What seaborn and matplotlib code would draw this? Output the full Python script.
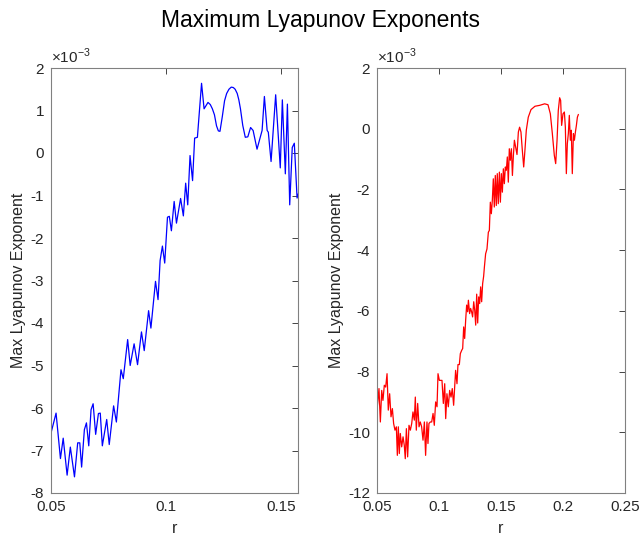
import numpy as np
import pandas as pd
import matplotlib
matplotlib.use("Agg")
import matplotlib.pyplot as plt
import seaborn as sns

# Left panel (values in units of 1e-3)
r_left = [0.0500, 0.0522, 0.0541, 0.0553, 0.0570, 0.0584, 0.0602, 0.0616, 0.0625, 0.0633,
          0.0645, 0.0654, 0.0664, 0.0674, 0.0683, 0.0694, 0.0706, 0.0714, 0.0723, 0.0742,
          0.0753, 0.0772, 0.0784, 0.0804, 0.0814, 0.0833, 0.0844, 0.0861, 0.0876, 0.0893,
          0.0905, 0.0924, 0.0934, 0.0954, 0.0965, 0.0974, 0.0984, 0.0994, 0.1006, 0.1014,
          0.1023, 0.1035, 0.1045, 0.1063, 0.1075, 0.1085, 0.1094, 0.1104, 0.1115, 0.1124,
          0.1136, 0.1154, 0.1165, 0.1182, 0.1192, 0.1201, 0.1210, 0.1219, 0.1227, 0.1234,
          0.1244, 0.1254, 0.1263, 0.1273, 0.1283, 0.1292, 0.1300, 0.1309, 0.1316, 0.1323,
          0.1333, 0.1344, 0.1355, 0.1367, 0.1378, 0.1395, 0.1417, 0.1427, 0.1439,
          0.1444, 0.1456, 0.1476, 0.1485, 0.1496, 0.1505, 0.1518, 0.1527, 0.1537, 0.1548,
          0.1557, 0.1569, 0.1574]
lam_left = [-6.59, -6.12, -7.19, -6.71, -7.58, -6.92, -7.62, -6.82, -6.82, -7.39,
            -6.51, -6.35, -6.89, -6.04, -5.90, -6.62, -6.13, -6.12, -6.89, -6.27,
            -6.86, -5.95, -6.33, -5.10, -5.31, -4.39, -5.00, -4.49, -4.98, -4.21,
            -4.65, -3.71, -4.12, -3.02, -3.45, -2.53, -2.19, -2.59, -1.51, -1.49,
            -1.83, -1.14, -1.65, -1.07, -1.48, -0.71, -1.22, -0.06, -0.65, 0.35,
            0.37, 1.64, 1.04, 1.19, 1.14, 1.04, 0.90, 0.64, 0.52, 0.51,
            0.85, 1.23, 1.40, 1.50, 1.55, 1.54, 1.50, 1.40, 1.25, 1.04,
            0.65, 0.37, 0.38, 0.60, 0.53, 0.09, 0.53, 1.33, 0.53,
            0.49, -0.20, 1.37, 0.60, -0.35, 1.25, -0.49, 1.15, -1.22, 0.13,
            0.23, -1.06, -0.96]

# Right panel (values in units of 1e-3)
r_right = [0.0500, 0.0516, 0.0527, 0.0538, 0.0548, 0.0559, 0.0570, 0.0581, 0.0591, 0.0602,
           0.0613, 0.0624, 0.0634, 0.0645, 0.0656, 0.0664, 0.0672, 0.0680, 0.0688, 0.0699,
           0.0710, 0.0720, 0.0728, 0.0737, 0.0747, 0.0758, 0.0769, 0.0780, 0.0790, 0.0801,
           0.0809, 0.0817, 0.0828, 0.0839, 0.0849, 0.0860, 0.0871, 0.0882, 0.0892, 0.0903,
           0.0911, 0.0919, 0.0930, 0.0941, 0.0952, 0.0962, 0.0973, 0.0984, 0.0992, 0.1003,
           0.1013, 0.1024, 0.1035, 0.1046, 0.1054, 0.1064, 0.1075, 0.1086, 0.1097, 0.1107,
           0.1118, 0.1126, 0.1134, 0.1145, 0.1153, 0.1164, 0.1172, 0.1183, 0.1191, 0.1199,
           0.1207, 0.1215, 0.1223, 0.1231, 0.1237, 0.1247, 0.1255, 0.1263, 0.1271, 0.1280,
           0.1288, 0.1296, 0.1304, 0.1312, 0.1320, 0.1328, 0.1336, 0.1344, 0.1352, 0.1360,
           0.1366, 0.1376, 0.1387, 0.1398, 0.1406, 0.1414, 0.1422, 0.1430, 0.1438, 0.1446,
           0.1454, 0.1462, 0.1470, 0.1478, 0.1487, 0.1495, 0.1503, 0.1511, 0.1519, 0.1527,
           0.1535, 0.1543, 0.1551, 0.1559, 0.1567, 0.1575, 0.1584, 0.1592, 0.1600, 0.1608,
           0.1618, 0.1629, 0.1640, 0.1650, 0.1661, 0.1672, 0.1683, 0.1693, 0.1704, 0.1720,
           0.1742, 0.1774, 0.1812, 0.1852, 0.1879, 0.1898, 0.1914, 0.1930, 0.1941, 0.1952,
           0.1962, 0.1973, 0.1981, 0.1989, 0.2000, 0.2011, 0.2019, 0.2027, 0.2035, 0.2043,
           0.2051, 0.2059, 0.2067, 0.2075, 0.2084, 0.2092, 0.2100, 0.2108, 0.2116, 0.2124]
lam_right = [-9.27, -8.56, -9.66, -8.62, -8.95, -8.45, -8.51, -8.07, -9.27, -8.73,
             -9.49, -9.22, -9.71, -9.93, -9.82, -10.76, -9.82, -10.70, -10.04, -10.48,
             -10.15, -10.43, -10.87, -9.88, -10.81, -9.77, -9.93, -9.71, -9.33, -9.60,
             -8.84, -9.93, -9.05, -9.82, -9.66, -9.82, -10.26, -9.66, -10.76, -9.66,
             -10.37, -9.71, -9.66, -9.66, -9.38, -9.77, -9.00, -9.16, -8.07, -8.29,
             -8.29, -8.29, -9.05, -8.40, -9.55, -8.73, -9.16, -8.62, -8.84, -8.56,
             -9.11, -8.56, -7.96, -8.40, -7.77, -7.77, -7.41, -7.30, -7.24, -6.53,
             -6.91, -6.31, -5.81, -6.03, -5.65, -6.09, -5.92, -6.03, -6.20, -5.70,
             -5.98, -6.47, -5.45, -6.40, -5.54, -5.76, -5.21, -5.70, -5.10, -4.86,
             -4.56, -4.12, -3.96, -3.41, -3.35, -2.42, -2.80, -2.36, -1.65, -2.58,
             -1.54, -2.53, -1.48, -2.47, -1.43, -2.42, -1.48, -2.09, -1.32, -1.81,
             -1.26, -1.37, -0.93, -1.76, -0.66, -1.04, -0.66, -1.54, -0.88, -0.38,
             -0.60, -0.85, -0.11, 0.05, -0.11, -0.71, -1.26, -0.71, -0.05, 0.38,
             0.63, 0.74, 0.77, 0.82, 0.79, 0.49, -0.16, -0.88, -1.15, -0.38,
             0.60, 1.02, 0.93, 0.11, 0.49, 0.55, 0.05, -1.48, -0.49, -0.16,
             0.44, -0.38, -0.05, -1.48, -0.16, -0.38, -0.11, 0.11, 0.38, 0.47]

title = "Maximum Lyapunov Exponents"
xlabel = "r"
ylabel = "Max Lyapunov Exponent"
left_xticks = [0.05, 0.1, 0.15]
left_yticks = [-8, -7, -6, -5, -4, -3, -2, -1, 0, 1, 2]
right_xticks = [0.05, 0.1, 0.15, 0.2, 0.25]
right_yticks = [-12, -10, -8, -6, -4, -2, 0, 2]

sns.set_style("white")
plt.rcParams['font.family'] = ['Liberation Sans', 'DejaVu Sans']
plt.rcParams['axes.unicode_minus'] = False
plt.rcParams['mathtext.fontset'] = 'custom'
plt.rcParams['mathtext.rm'] = 'Liberation Sans'

fig = plt.figure(figsize=(6.41, 5.41), dpi=100)
ax1 = fig.add_axes([51/641, 48/541, 247/641, 425/541])
ax2 = fig.add_axes([377/641, 48/541, 248/641, 425/541])

df1 = pd.DataFrame({"r": r_left, "lam": lam_left})
df2 = pd.DataFrame({"r": r_right, "lam": lam_right})
sns.lineplot(data=df1, x="r", y="lam", ax=ax1, color=(0, 0, 1), linewidth=0.9)
sns.lineplot(data=df2, x="r", y="lam", ax=ax2, color=(1, 0, 0), linewidth=0.9)

grey = "#262626"
for ax, xt, yt, xl, yl in [(ax1, left_xticks, left_yticks, (0.05, 0.1573), (-8, 2)),
                           (ax2, right_xticks, right_yticks, (0.05, 0.25), (-12, 2))]:
    ax.set_xlim(*xl)
    ax.set_ylim(*yl)
    ax.set_xticks(xt)
    ax.set_xticklabels([f"{v:g}" for v in xt])
    ax.set_yticks(yt)
    ax.set_yticklabels([f"{v:g}" for v in yt])
    ax.tick_params(direction="in", length=4, width=0.6, colors=grey, labelsize=11,
                   top=True, right=True, pad=5)
    for s in ax.spines.values():
        s.set_visible(True)
        s.set_color("#808080")
        s.set_linewidth(0.8)
    ax.set_xlabel(xlabel, fontsize=11.5, color=grey, labelpad=5)
    ax.set_ylabel(ylabel, fontsize=11.5, color=grey, labelpad=3)
    ax.text(0.0, 1.005, r"$\times10^{-3}$", transform=ax.transAxes, fontsize=11,
            color=grey, ha="left", va="bottom")

fig.suptitle(title, fontsize=16.5, x=0.5, y=0.963, va="center", color="black")
fig.savefig("out.png", dpi=100, facecolor="white")
